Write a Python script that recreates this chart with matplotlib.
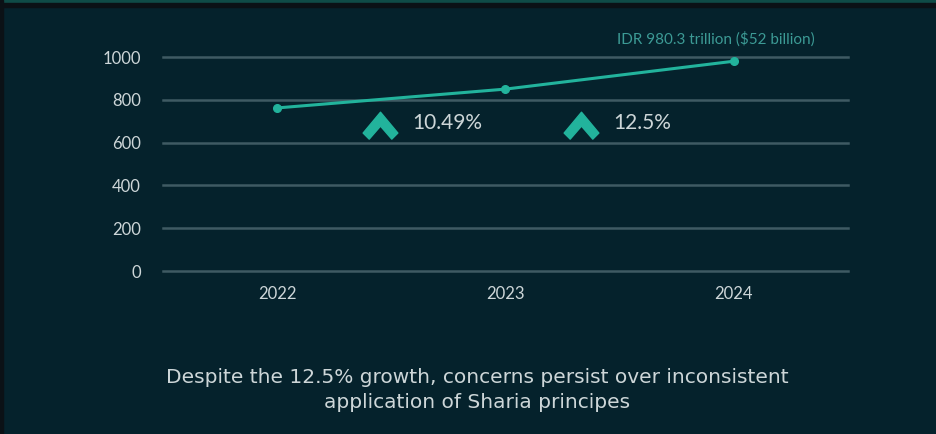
import matplotlib.pyplot as plt
import numpy as np
from matplotlib.path import Path

years = ['2022', '2023', '2024']
values = [762, 850, 980.3]
y_ticks = [0, 200, 400, 600, 800, 1000]
growth_labels = ['10.49%', '12.5%']
growth_x = [0.45, 1.33]
growth_y = [690, 690]
top_note = 'IDR 980.3 trillion ($52 billion)'
caption = 'Despite the 12.5% growth, concerns persist over inconsistent\napplication of Sharia principes'

bg = '#05222c'
teal = '#22b39c'
grid_c = '#3f5a63'
txt_c = '#cdd6d8'

fig = plt.figure(figsize=(9.37, 4.34), dpi=100, facecolor=bg)
# top strip and frame
fig.patches.append(plt.Rectangle((0, 0.993), 1, 0.007, transform=fig.transFigure, color='#0f4b47', zorder=0))
fig.patches.append(plt.Rectangle((0, 0.985), 1, 0.008, transform=fig.transFigure, color='#0b1116', zorder=0))
fig.patches.append(plt.Rectangle((0, 0), 0.003, 1, transform=fig.transFigure, color='#0b1116', zorder=0))

ax = fig.add_axes([163 / 937, 1 - 271 / 434, (848 - 163) / 937, 214 / 434])
ax.set_facecolor(bg)
x = np.arange(len(years))
ax.set_xlim(-0.5, 2.5)
ax.set_ylim(0, 1000)
for t in y_ticks:
    ax.axhline(t, color=grid_c, lw=1.8, zorder=1, clip_on=False)
ax.plot(x, values, color=teal, lw=2.2, marker='o', ms=5.5, zorder=3, clip_on=False)

chevron = Path([(-1, -0.55), (0, 0.65), (1, -0.55), (0.65, -0.9), (0, -0.15), (-0.65, -0.9), (-1, -0.55)],
               [Path.MOVETO] + [Path.LINETO] * 5 + [Path.CLOSEPOLY])
ax.plot(growth_x, growth_y, ls='none', marker=chevron, ms=25, color=teal, mec=teal, zorder=3)
for gx, gy, lab in zip(growth_x, growth_y, growth_labels):
    ax.text(gx + 0.14, gy, lab, color=txt_c, fontsize=15, fontfamily='Lato', va='center', ha='left')

ax.text(1.92, 1050, top_note, color='#3c9a95', fontsize=11, fontfamily='Lato', ha='center', va='bottom')

ax.set_xticks(x)
ax.set_xticklabels(years)
ax.set_yticks(y_ticks)
ax.tick_params(length=0, colors=txt_c, labelsize=12)
ax.tick_params(axis='y', pad=16)
ax.tick_params(axis='x', pad=11)
for lab in ax.get_xticklabels() + ax.get_yticklabels():
    lab.set_fontfamily('Lato')
for s in ax.spines.values():
    s.set_visible(False)

fig.text(477 / 937, 1 - 390 / 434, caption, color=txt_c, fontsize=14.5,
         ha='center', va='center', linespacing=1.4)

fig.savefig('out.png', dpi=100, facecolor=bg)
